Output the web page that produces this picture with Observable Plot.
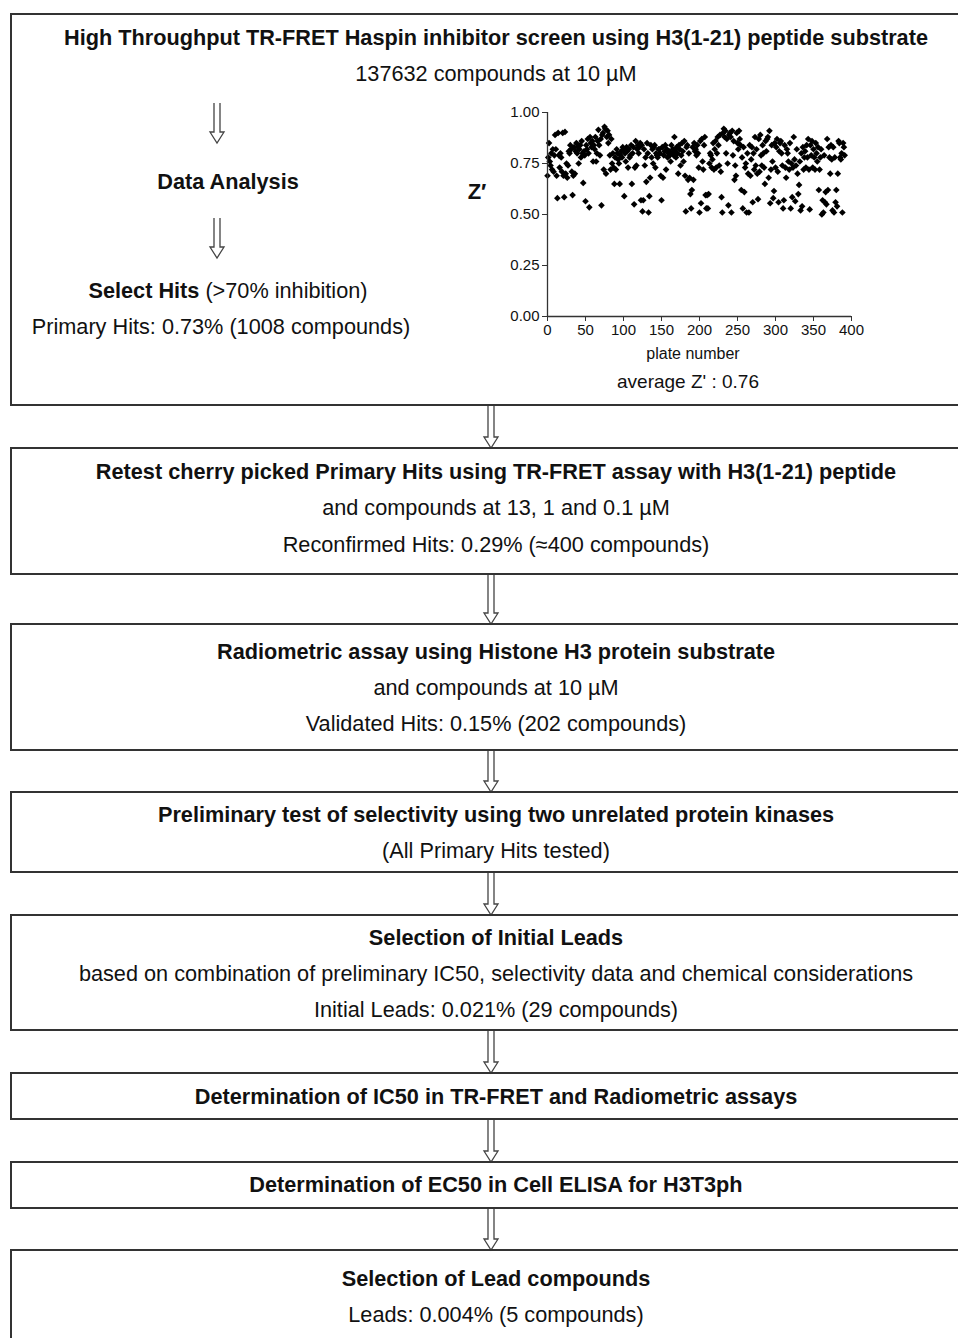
<!DOCTYPE html>
<html>
<head>
<meta charset="utf-8">
<script src="https://cdn.jsdelivr.net/npm/d3@7"></script>
<script src="https://cdn.jsdelivr.net/npm/@observablehq/plot@0.6"></script>
<style>
  html, body { margin: 0; padding: 0; background: #fff; }
  #page { position: relative; width: 958px; height: 1338px; overflow: hidden; font-family: "Liberation Sans", Arial, sans-serif; color: #111; }
  .box { position: absolute; left: 10px; width: 972px; border: 2px solid #333; box-sizing: border-box; }
  .line { position: absolute; white-space: nowrap; text-align: center; font-size: 21.7px; line-height: 24px; }
  .b { font-weight: bold; }
  svg.arrow { position: absolute; overflow: visible; }
  #scatter { position: absolute; }
</style>
</head>
<body>
<div id="page"></div>
<script>
// ---------- DATA ----------
const zPrimeByPlate = [
  0.69, 0.78, 0.85, 0.76, 0.74, 0.80, 0.72, 0.82, 0.71, 0.79,
  0.89, 0.82, 0.69, 0.58, 0.90, 0.79, 0.73, 0.80, 0.78, 0.71,
  0.90, 0.69, 0.585, 0.905, 0.70, 0.75, 0.68, 0.74, 0.81, 0.80,
  0.84, 0.82, 0.71, 0.595, 0.69, 0.83, 0.70, 0.81, 0.85, 0.80,
  0.83, 0.75, 0.82, 0.84, 0.78, 0.86, 0.80, 0.655, 0.81, 0.79,
  0.565, 0.84, 0.82, 0.87, 0.80, 0.535, 0.88, 0.85, 0.83, 0.86,
  0.76, 0.84, 0.82, 0.88, 0.76, 0.80, 0.86, 0.915, 0.84, 0.79,
  0.87, 0.545, 0.89, 0.90, 0.72, 0.93, 0.92, 0.70, 0.88, 0.91,
  0.85, 0.89, 0.79, 0.72, 0.87, 0.75, 0.80, 0.73, 0.65, 0.78,
  0.72, 0.82, 0.80, 0.77, 0.75, 0.65, 0.79, 0.81, 0.78, 0.83,
  0.82, 0.59, 0.80, 0.76, 0.83, 0.81, 0.73, 0.82, 0.78, 0.79,
  0.84, 0.65, 0.80, 0.83, 0.55, 0.73, 0.86, 0.74, 0.82, 0.84,
  0.80, 0.83, 0.85, 0.57, 0.84, 0.515, 0.57, 0.82, 0.74, 0.78,
  0.66, 0.85, 0.80, 0.51, 0.59, 0.68, 0.84, 0.78, 0.82, 0.75,
  0.83, 0.84, 0.73, 0.80, 0.79, 0.78, 0.82, 0.82, 0.80, 0.69,
  0.57, 0.83, 0.68, 0.79, 0.81, 0.84, 0.72, 0.82, 0.78, 0.80,
  0.81, 0.79, 0.76, 0.84, 0.80, 0.82, 0.79, 0.88, 0.81, 0.78,
  0.83, 0.80, 0.70, 0.84, 0.82, 0.74, 0.79, 0.85, 0.81, 0.76,
  0.86, 0.69, 0.515, 0.83, 0.84, 0.67, 0.80, 0.68, 0.60, 0.53,
  0.62, 0.83, 0.67, 0.85, 0.81, 0.82, 0.79, 0.84, 0.80, 0.73,
  0.51, 0.86, 0.555, 0.87, 0.76, 0.72, 0.84, 0.88, 0.595, 0.53,
  0.595, 0.53, 0.60, 0.75, 0.80, 0.79, 0.73, 0.77, 0.85, 0.72,
  0.82, 0.86, 0.73, 0.80, 0.88, 0.84, 0.74, 0.89, 0.71, 0.585,
  0.51, 0.90, 0.92, 0.88, 0.91, 0.80, 0.87, 0.75, 0.545, 0.89,
  0.90, 0.88, 0.51, 0.91, 0.79, 0.86, 0.67, 0.74, 0.69, 0.90,
  0.85, 0.82, 0.91, 0.87, 0.84, 0.62, 0.78, 0.53, 0.83, 0.61,
  0.73, 0.75, 0.51, 0.80, 0.70, 0.51, 0.84, 0.69, 0.77, 0.83,
  0.56, 0.80, 0.72, 0.88, 0.74, 0.82, 0.70, 0.575, 0.87, 0.71,
  0.89, 0.79, 0.74, 0.84, 0.80, 0.73, 0.65, 0.86, 0.81, 0.87,
  0.88, 0.68, 0.91, 0.555, 0.72, 0.84, 0.76, 0.58, 0.615, 0.85,
  0.73, 0.83, 0.87, 0.71, 0.56, 0.81, 0.85, 0.86, 0.80, 0.74,
  0.53, 0.57, 0.84, 0.73, 0.68, 0.82, 0.80, 0.76, 0.72, 0.85,
  0.53, 0.75, 0.585, 0.73, 0.88, 0.77, 0.565, 0.74, 0.82, 0.70,
  0.60, 0.645, 0.76, 0.52, 0.80, 0.54, 0.83, 0.72, 0.78, 0.81,
  0.73, 0.84, 0.78, 0.87, 0.72, 0.525, 0.84, 0.79, 0.86, 0.73,
  0.82, 0.78, 0.72, 0.85, 0.80, 0.76, 0.83, 0.62, 0.72, 0.78,
  0.82, 0.50, 0.57, 0.51, 0.79, 0.56, 0.61, 0.55, 0.87, 0.62,
  0.83, 0.78, 0.70, 0.84, 0.77, 0.52, 0.83, 0.51, 0.78, 0.56,
  0.62, 0.54, 0.70, 0.86, 0.85, 0.78, 0.77, 0.80, 0.51, 0.85,
  0.83, 0.79
];
const xTicks = [0, 50, 100, 150, 200, 250, 300, 350, 400];
const yTicks = [0, 0.25, 0.5, 0.75, 1.0];
const xLabel = "plate number";
const yLabel = "Z′";
const averageText = "average Z' : 0.76";

const stepTexts = [
  [{t: "High Throughput TR-FRET Haspin inhibitor screen using H3(1-21) peptide substrate", b: true},
   {t: "137632 compounds at 10 µM"}],
  [{t: "Retest cherry picked Primary Hits using TR-FRET assay with H3(1-21) peptide", b: true},
   {t: "and compounds at 13, 1 and 0.1 µM"},
   {t: "Reconfirmed Hits: 0.29% (≈400 compounds)"}],
  [{t: "Radiometric assay using Histone H3 protein substrate", b: true},
   {t: "and compounds at 10 µM"},
   {t: "Validated Hits: 0.15% (202 compounds)"}],
  [{t: "Preliminary test of selectivity using two unrelated protein kinases", b: true},
   {t: "(All Primary Hits tested)"}],
  [{t: "Selection of Initial Leads", b: true},
   {t: "based on combination of preliminary IC50, selectivity data and chemical considerations"},
   {t: "Initial Leads: 0.021% (29 compounds)"}],
  [{t: "Determination of IC50 in TR-FRET and Radiometric assays", b: true}],
  [{t: "Determination of EC50 in Cell ELISA for H3T3ph", b: true}],
  [{t: "Selection of Lead compounds", b: true},
   {t: "Leads: 0.004% (5 compounds)"}]
];
const leftColumn = {
  analysis: "Data Analysis",
  selectBold: "Select Hits",
  selectRest: " (>70% inhibition)",
  primary: "Primary Hits: 0.73% (1008 compounds)"
};

// ---------- LAYOUT ----------
const page = document.getElementById("page");
const boxGeom = [[13, 406], [447, 575], [623, 751], [791, 873], [914, 1031], [1072, 1120], [1161, 1209], [1249, 1350]];
const lineY = [[38, 74], [472, 508, 545], [652, 688, 724], [815, 851], [938, 974, 1010], [1097], [1185], [1279, 1315]];

function addLine(html, cx, cy, bold, size) {
  const d = document.createElement("div");
  d.className = "line" + (bold ? " b" : "");
  d.innerHTML = html;
  d.style.left = (cx - 600) + "px";
  d.style.width = "1200px";
  d.style.top = (cy - 12) + "px";
  if (size) d.style.fontSize = size + "px";
  page.appendChild(d);
  return d;
}
function arrow(cx, y1, y2) {
  const ns = "http://www.w3.org/2000/svg";
  const s = document.createElementNS(ns, "svg");
  s.setAttribute("class", "arrow");
  s.style.left = (cx - 10) + "px";
  s.style.top = y1 + "px";
  s.setAttribute("width", 20);
  s.setAttribute("height", y2 - y1);
  const h = y2 - y1, hh = 11;
  const p = document.createElementNS(ns, "path");
  p.setAttribute("d", `M7,0 L7,${h - hh} L3,${h - hh} L10,${h} L17,${h - hh} L13,${h - hh} L13,0`);
  p.setAttribute("fill", "#fff");
  p.setAttribute("stroke", "#444");
  p.setAttribute("stroke-width", 1.3);
  s.appendChild(p);
  page.appendChild(s);
}

boxGeom.forEach(([t, b], i) => {
  const d = document.createElement("div");
  d.className = "box";
  d.style.top = t + "px";
  d.style.height = (b - t) + "px";
  page.appendChild(d);
  stepTexts[i].forEach((ln, j) => addLine(ln.t, 496, lineY[i][j], ln.b));
  if (i < boxGeom.length - 1) arrow(491, b, boxGeom[i + 1][0] + 1);
});

// left column of first box
addLine(leftColumn.analysis, 228, 182, true);
addLine(`<b>${leftColumn.selectBold}</b>${leftColumn.selectRest}`, 228, 291, false);
addLine(leftColumn.primary, 221, 327, false);
arrow(217, 103, 143);
arrow(217, 218, 258);

// scatter labels
addLine(yLabel, 477, 192, true, 22);
addLine(xLabel, 693, 354, false, 16);
addLine(averageText, 688, 382, false, 19);

// ---------- SCATTER (Observable Plot) ----------
const plates = zPrimeByPlate.map((z, i) => ({plate: i, z}));
const mL = 45, mT = 8, mR = 15, mB = 30;
const plotW = 304, plotH = 204;
const chart = Plot.plot({
  width: mL + plotW + mR,
  height: mT + plotH + mB,
  marginLeft: mL, marginTop: mT, marginRight: mR, marginBottom: mB,
  style: {fontFamily: "Liberation Sans, Arial, sans-serif", fontSize: "15px", color: "#111", background: "transparent", overflow: "visible"},
  x: {domain: [0, 400]},
  y: {domain: [0, 1]},
  marks: [
    Plot.dot(plates, {x: "plate", y: "z", symbol: "diamond2", r: 3, fill: "#000", stroke: "none"}),
    Plot.ruleX([0], {y1: 0, y2: 1, stroke: "#333", strokeWidth: 1.3}),
    Plot.ruleY([0], {x1: 0, x2: 400, stroke: "#333", strokeWidth: 1.3}),
    Plot.axisY({ticks: yTicks, tickFormat: d3.format(".2f"), tickSize: 5, tickPadding: 3, label: null, stroke: "#333", fontSize: 15}),
    Plot.axisX({ticks: xTicks, tickFormat: d => String(d), tickSize: 5, tickPadding: 3, label: null, stroke: "#333", fontSize: 15})
  ]
});
chart.id = "scatter";
chart.style.left = (547 - mL) + "px";
chart.style.top = (112 - mT) + "px";
page.appendChild(chart);
</script>
</body>
</html>
